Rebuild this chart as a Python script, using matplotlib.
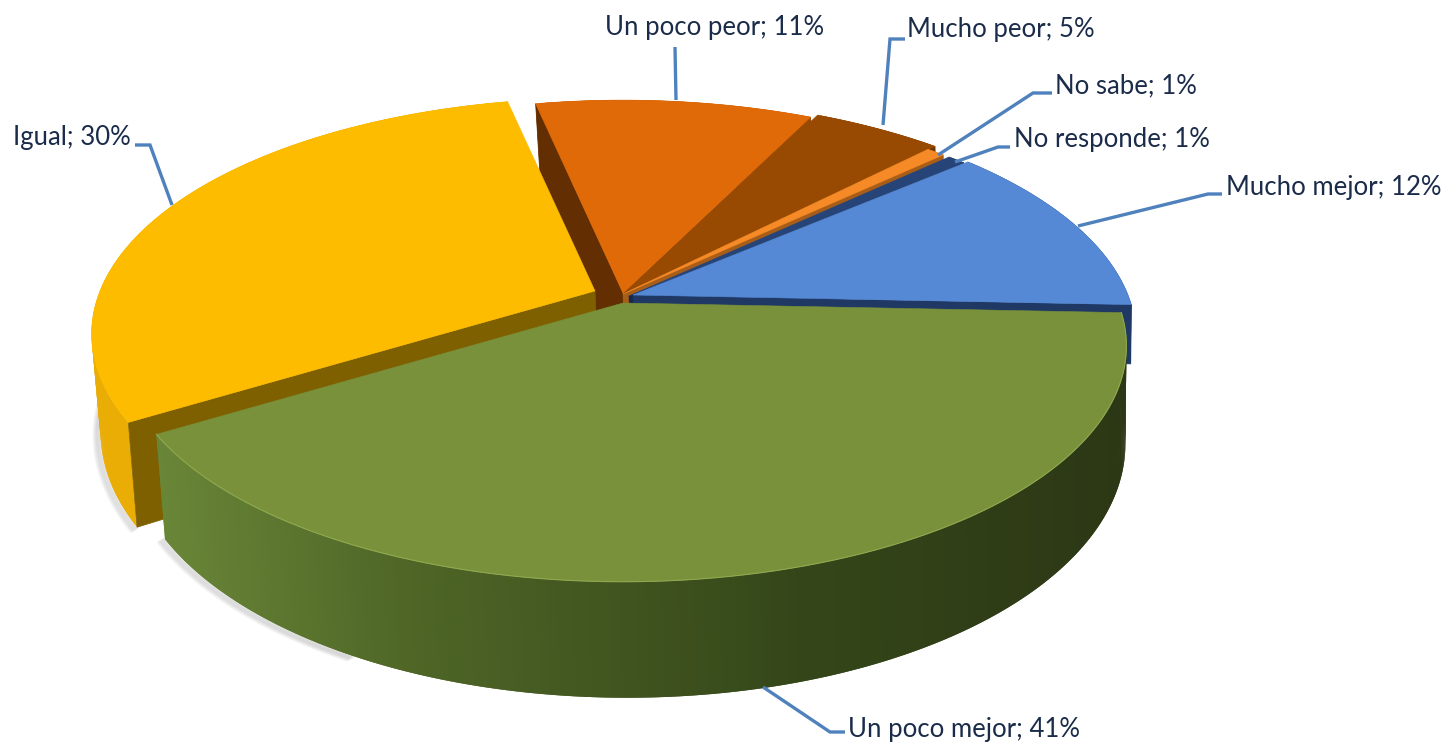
import numpy as np
import matplotlib
matplotlib.use("Agg")
import matplotlib.pyplot as plt
from matplotlib.collections import PolyCollection
from matplotlib.colors import to_rgb

# ---- data ----
categories = ["Mucho mejor", "Un poco mejor", "Igual", "Un poco peor",
              "Mucho peor", "No sabe", "No responde"]
shares = [12.0, 40.6, 30.4, 10.6, 5.0, 0.7, 0.7]
shown_percent = [12, 41, 30, 11, 5, 1, 1]

# ---- style ----
top_colors = ["#5589D5", "#78913A", "#FDBC00", "#E16A08", "#994A02", "#F58A26", "#264478"]
start_face_colors = ["#1F3864", "#3A4A1C", "#7F6000", "#622E02", "#6E3502", "#A85E18", "#14284C"]
end_face_colors = ["#1F3864", "#3A4A1C", "#7F6000", "#994A02", "#6E3502", "#A85E18", "#14284C"]
wall_colors = ["#1F3864", None, "#E9AD06", "#A84F06", "#7A3B02", "#C06C1C", "#1C3460"]
slice_depth = [0.62, 1, 1, 1, 1, 1, 1]
green_stops_x = [150, 400, 800, 1130]
green_stops_c = ["#6A8738", "#4F6627", "#344619", "#2C3715"]
tips = [(633, 295), (623, 303), (595, 291), (623, 293), (630, 291), (623, 294), (629, 296)]
paint_order = [3, 4, 5, 6, 0, 2, 1]
START = 49.2
A, B, K = 495.0, 228.0, 0.182
DEPTH = 116.0
BOTTOM_SCALE = 0.99
BOTTOM_SHIFT = 4.0

text_color = "#1B2C4A"
leader_color = "#4F81BD"
label_pos = [(1226, 187), (848, 729), (13, 137), (605, 27), (907, 29), (1055, 86), (1014, 140)]
leaders = [
    [(1222, 194), (1208, 194), (1078, 226)],
    [(845, 732), (830, 732), (763, 687)],
    [(135, 145), (150, 145), (172, 205)],
    [(675, 47), (676, 100)],
    [(905, 39), (890, 39), (883, 125)],
    [(1052, 93), (1033, 93), (938, 155)],
    [(1010, 147), (998, 147), (955, 162)],
]


def project(theta_deg, tip, z=0.0):
    th = np.radians(theta_deg)
    X, Y = np.sin(th), -np.cos(th)
    w = 1 - K * Y
    scale = 1 - (1 - BOTTOM_SCALE) * z
    return (tip[0] + z * BOTTOM_SHIFT + scale * A * X / w,
            tip[1] + B * Y / w + z * DEPTH * (1 - K) / w)


def tip_bottom(tip, z=1.0):
    return tip[0] + z * BOTTOM_SHIFT, tip[1] + z * DEPTH * (1 - K)


def green_wall_color(x):
    stops = np.array([to_rgb(c) for c in green_stops_c])
    return tuple(np.interp(x, green_stops_x, stops[:, i]) for i in range(3))


fig = plt.figure(figsize=(14.46, 7.42), dpi=100)
ax = fig.add_axes([0, 0, 1, 1])
ax.set_xlim(0, 1446)
ax.set_ylim(742, 0)
ax.axis("off")

edges = START + 3.6 * np.concatenate([[0], np.cumsum(shares)])

# soft shadow on the left of the lower rims
for idx, (lo, hi) in ((2, (edges[2], edges[2] + 28)), (1, (208, edges[2]))):
    th = np.linspace(lo, hi, 60)
    xs, ys = project(th, tips[idx], 1.0)
    for s in range(0, 7):
        ax.plot(xs - 1.0 * s, ys + 0.6 * s, color="#555555", alpha=0.05,
                lw=3, zorder=1, solid_capstyle="round")

z = 2
for i in paint_order:
    t0, t1 = edges[i], edges[i + 1]
    tip = tips[i]
    d = slice_depth[i]
    th = np.linspace(t0, t1, max(int((t1 - t0) * 2), 4))
    xt, yt = project(th, tip, 0.0)
    xb, yb = project(th, tip, d)
    tb = tip_bottom(tip, d)
    # outer wall as overlapping narrow strips
    last = len(th) - 1
    quads = [[(xt[j], yt[j]), (xt[min(j + 2, last)], yt[min(j + 2, last)]),
              (xb[min(j + 2, last)], yb[min(j + 2, last)]), (xb[j], yb[j])]
             for j in range(last)]
    if wall_colors[i] is None:
        cols = [green_wall_color((q[0][0] + q[1][0]) / 2) for q in quads]
    else:
        cols = [wall_colors[i]] * len(quads)
    ax.add_collection(PolyCollection(quads, facecolors=cols, edgecolors="none",
                                     linewidths=0, zorder=z))
    # radial cut faces, only those that turn towards the viewer
    for k, visible, col in ((0, xt[0] < tip[0], start_face_colors[i]),
                            (-1, xt[-1] > tip[0], end_face_colors[i])):
        if visible:
            ax.fill([tip[0], xt[k], xb[k], tb[0]], [tip[1], yt[k], yb[k], tb[1]],
                    color=col, lw=0.5, zorder=z + 0.1)
    # top surface
    ax.fill(np.r_[tip[0], xt], np.r_[tip[1], yt], color=top_colors[i], lw=0.4, zorder=z + 0.2)
    if i == 1:
        ax.plot(xt, yt, color="#8FA94F", lw=0.8, zorder=z + 0.3)
    z += 1

for pts in leaders:
    p = np.array(pts)
    ax.plot(p[:, 0], p[:, 1], color=leader_color, lw=2.4, zorder=30,
            solid_joinstyle="miter", solid_capstyle="butt")

for name, pct, (x, y) in zip(categories, shown_percent, label_pos):
    ax.text(x, y, f"{name}; {pct}%", family="Lato", fontsize=18.5, color=text_color,
            ha="left", va="center", zorder=31)

fig.savefig("out.png", dpi=100, facecolor="white")
